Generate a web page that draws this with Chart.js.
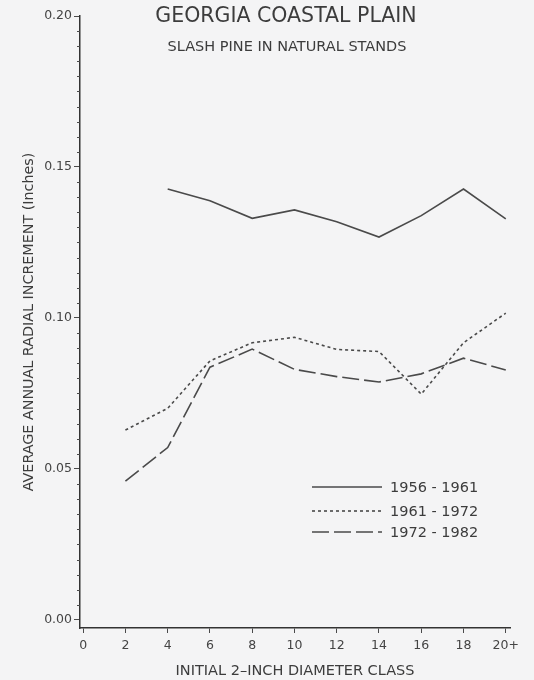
<!DOCTYPE html>
<html>
<head>
<meta charset="utf-8">
<script src="https://cdn.jsdelivr.net/npm/chart.js@4.4.1/dist/chart.umd.min.js"></script>
<style>
  html, body { margin: 0; padding: 0; background: #f4f4f5; }
  #wrap { width: 534px; height: 680px; }
</style>
</head>
<body>
<div id="wrap"><canvas id="myChart" width="534" height="680"></canvas></div>
<script>
// diameter classes (inches), 20 = "20+"
const diameterClasses = [2, 4, 6, 8, 10, 12, 14, 16, 18, 20]
const xTicks = [0, 2, 4, 6, 8, 10, 12, 14, 16, 18, 20]
const yTicks = [0.00, 0.05, 0.10, 0.15, 0.20]

const period1956 = [null, 0.1427, 0.1388, 0.1330, 0.1358, 0.1319, 0.1268, 0.1339, 0.1427, 0.1328]
const period1961 = [0.0629, 0.0701, 0.0858, 0.0918, 0.0936, 0.0896, 0.0889, 0.0748, 0.0918, 0.1016]
const period1972 = [0.0460, 0.0571, 0.0837, 0.0897, 0.0830, 0.0806, 0.0788, 0.0815, 0.0867, 0.0828]

const seriesLabels = ['1956 - 1961', '1961 - 1972', '1972 - 1982']

const ink = '#4a4a4a'
const font = 'DejaVu Sans'

const toPoints = vals => diameterClasses.map((c, i) => ({ x: c, y: vals[i] })).filter(p => p.y !== null)

const makeSet = (label, vals, dash) => ({
    label: label,
    data: toPoints(vals),
    borderColor: ink,
    borderWidth: 1.6,
    borderDash: dash,
    pointRadius: 0,
    tension: 0,
    fill: false
})

// titles, minor ticks and the legend box
const decorations = {
    id: 'decorations',
    afterDraw(chart) {
        const { ctx, chartArea, scales } = chart
        ctx.save()
        ctx.fillStyle = '#3c3c3c'
        ctx.textAlign = 'center'
        ctx.textBaseline = 'middle'
        ctx.font = '20.5px "' + font + '"'
        ctx.fillText('GEORGIA COASTAL PLAIN', 286, 17)
        ctx.font = '14.5px "' + font + '"'
        ctx.fillText('SLASH PINE IN NATURAL STANDS', 287, 47)

        // minor ticks on the y axis
        ctx.strokeStyle = ink
        ctx.lineWidth = 1
        for (let k = 1; k < 40; k++) {
            if (k % 10 === 0) continue
            const y = Math.round(scales.y.getPixelForValue(k * 0.005)) + 0.5
            ctx.beginPath()
            ctx.moveTo(chartArea.left - 3, y)
            ctx.lineTo(chartArea.left, y)
            ctx.stroke()
        }

        // legend
        const rows = [487, 511, 532]
        ctx.textAlign = 'left'
        ctx.font = '14.5px "' + font + '"'
        chart.data.datasets.forEach((ds, i) => {
            ctx.beginPath()
            ctx.setLineDash(ds.borderDash || [])
            ctx.lineWidth = ds.borderWidth
            ctx.strokeStyle = ds.borderColor
            ctx.moveTo(312, rows[i])
            ctx.lineTo(382, rows[i])
            ctx.stroke()
            ctx.setLineDash([])
            ctx.fillText(ds.label, 390, rows[i] + 1)
        })
        ctx.restore()
    }
}

const ctx = document.getElementById('myChart').getContext('2d')

const myChart = new Chart(ctx, {
    type: 'line',
    data: {
        datasets: [
            makeSet(seriesLabels[0], period1956, []),
            makeSet(seriesLabels[1], period1961, [3, 3]),
            makeSet(seriesLabels[2], period1972, [17, 5])
        ]
    },
    options: {
        responsive: false,
        animation: false,
        layout: { padding: { top: 16, right: 24, left: 0, bottom: 0 } },
        plugins: {
            legend: { display: false },
            tooltip: { enabled: false }
        },
        scales: {
            x: {
                type: 'linear',
                min: -0.15,
                max: 20.2,
                afterBuildTicks: scale => { scale.ticks = xTicks.map(v => ({ value: v })) },
                afterFit: scale => { scale.height = 52 },
                ticks: {
                    color: '#444',
                    padding: 5,
                    font: { family: font, size: 12.5 },
                    callback: v => v === 20 ? '20+' : String(v)
                },
                grid: { drawOnChartArea: false, drawTicks: true, tickLength: 5, color: ink },
                border: { color: '#333', width: 1.5 },
                title: {
                    display: true,
                    text: 'INITIAL 2–INCH DIAMETER CLASS',
                    color: '#3c3c3c',
                    font: { family: font, size: 14.5 },
                    padding: { top: 0, bottom: 0 }
                }
            },
            y: {
                min: -0.00265,
                max: 0.2,
                afterBuildTicks: scale => { scale.ticks = yTicks.map(v => ({ value: v })) },
                afterFit: scale => { scale.width = 80 },
                ticks: {
                    color: '#444',
                    padding: 2,
                    font: { family: font, size: 12.5 },
                    callback: v => v.toFixed(2)
                },
                grid: { drawOnChartArea: false, drawTicks: true, tickLength: 6, color: ink },
                border: { color: '#333', width: 1.5 },
                title: {
                    display: true,
                    text: 'AVERAGE ANNUAL RADIAL INCREMENT (Inches)',
                    color: '#3c3c3c',
                    font: { family: font, size: 14.3 },
                    padding: { top: 21, bottom: 0 }
                }
            }
        }
    },
    plugins: [decorations]
})
</script>
</body>
</html>
